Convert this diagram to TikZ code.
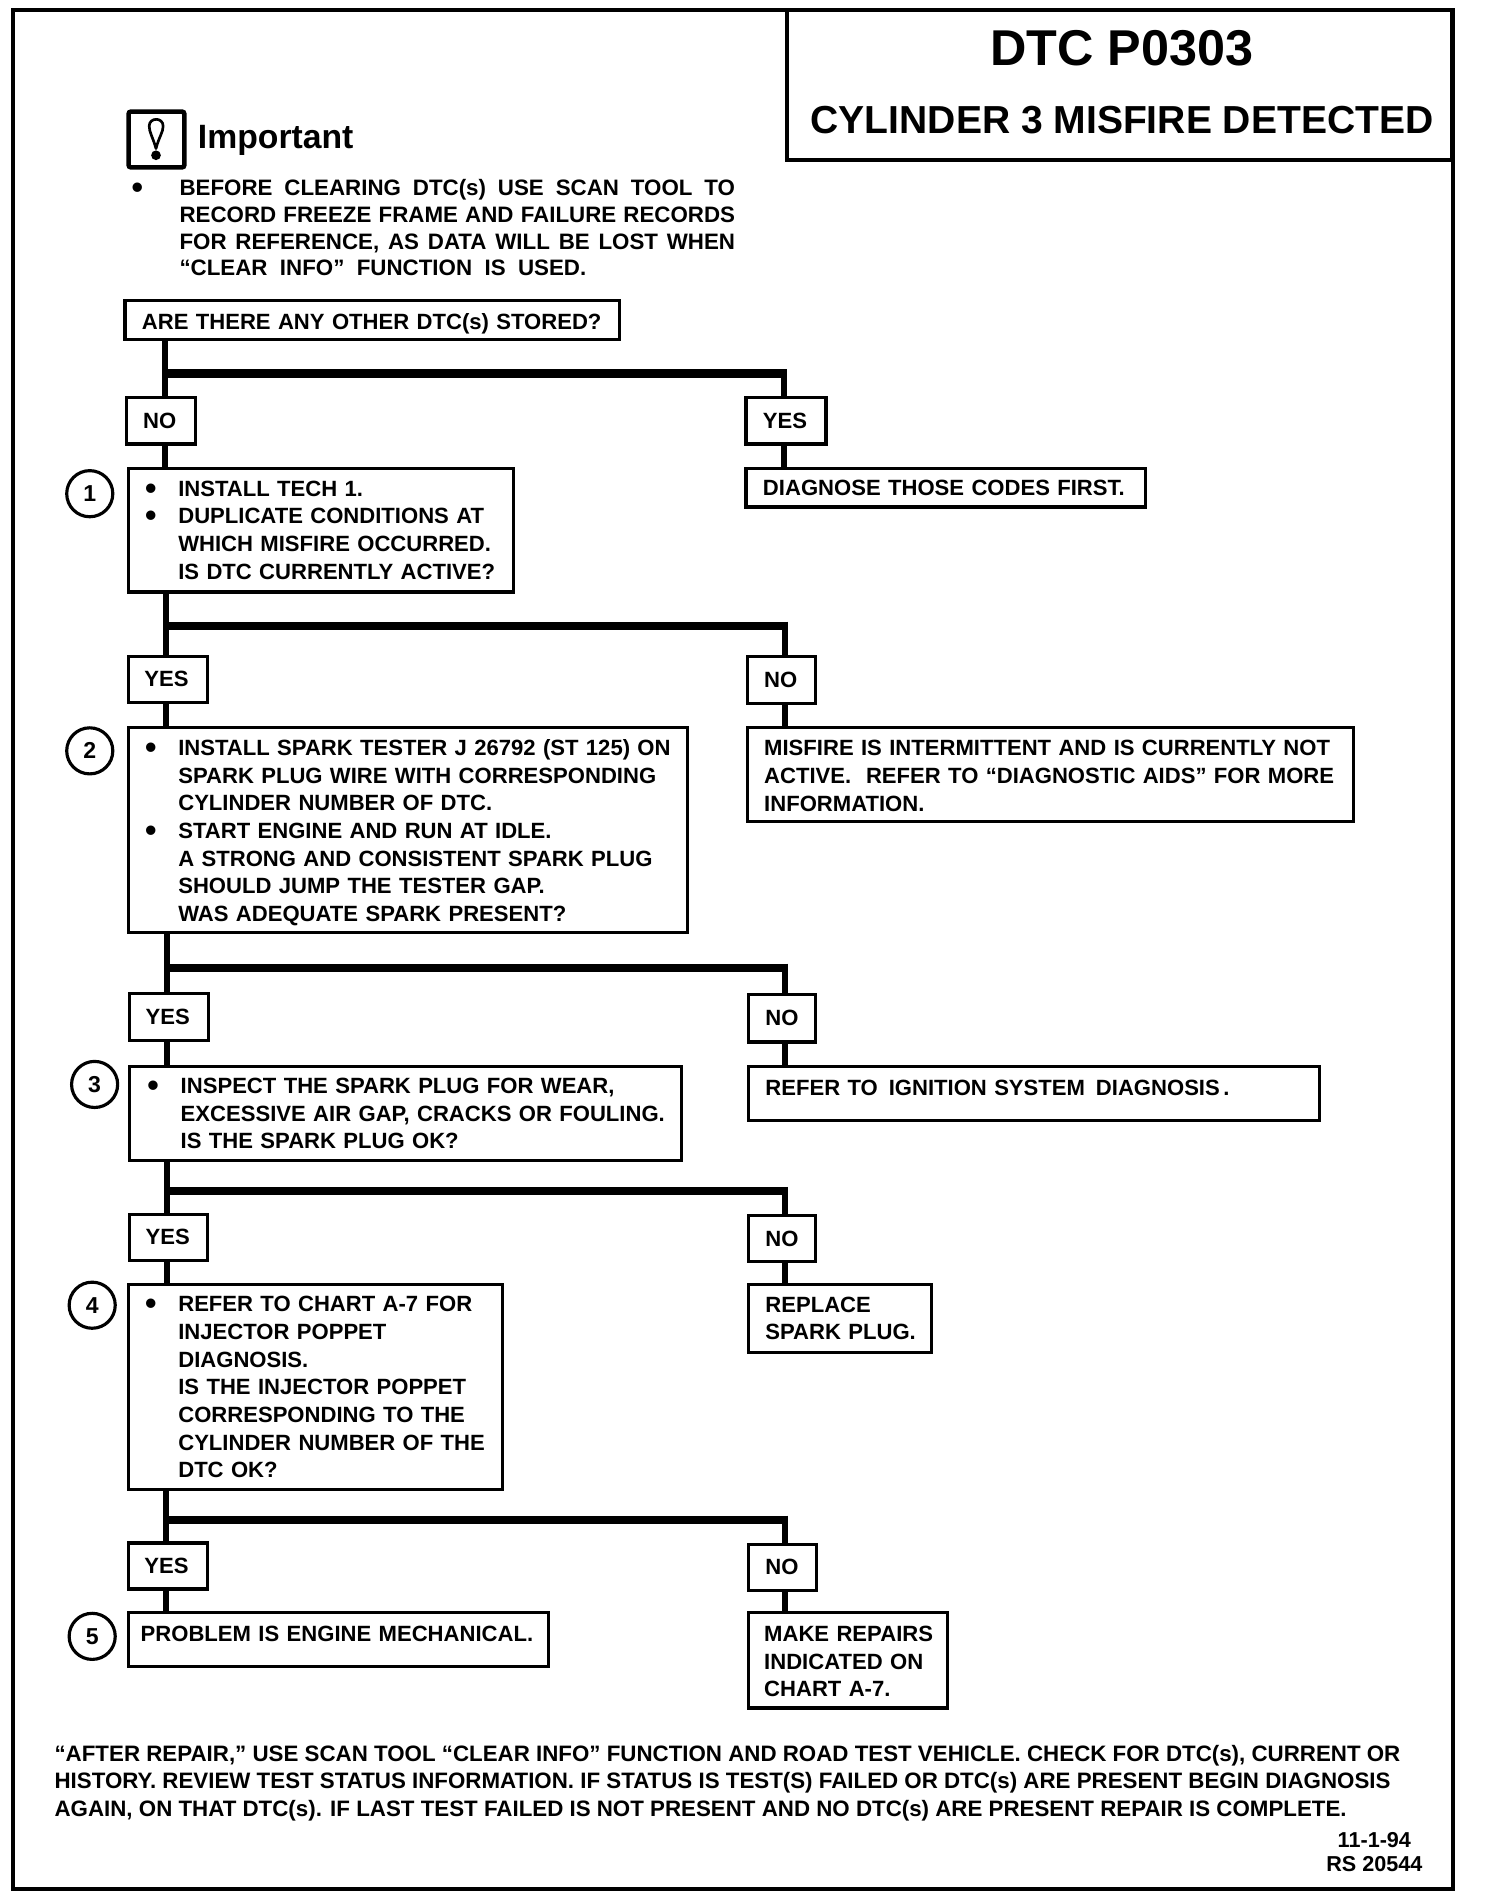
\documentclass[tikz,border=0pt]{standalone}
\usepackage{fontspec}
\setmainfont{Liberation Sans}
\newcommand{\blx}[1]{\leavevmode\llap{{\fontsize{27}{22}\selectfont\raisebox{-2.5pt}{\textbullet}}\hspace{#1pt}}}
\newcommand{\bl}{\blx{18}}
\newcommand{\jl}[2]{\makebox[#1pt][s]{#2}}
\newcommand{\bx}[7]{%
  \pgfmathsetmacro{\bxw}{#4-#2}\pgfmathsetmacro{\bxh}{#5-#3}%
  \pgfmathsetmacro{\bxc}{(#2+#4)/2}\pgfmathsetmacro{\bxm}{(#3+#5)/2}%
  \node[box,minimum width=\bxw pt,minimum height=\bxh pt,text width=\bxw pt] (#1) at (\bxc,\bxm) {\leftskip=#6pt\relax #7\par};}
\tikzset{
  x=1pt,y=-1pt,
  box/.style={draw=black,line width=2.6pt,fill=white,rectangle,inner sep=0pt,outer sep=0pt,align=left,font=\bfseries\fontsize{18.2}{22.8}\selectfont},
  num/.style={draw=black,circle,line width=2.6pt,minimum size=38pt,inner sep=0pt,fill=white,font=\bfseries\fontsize{19}{22}\selectfont},
  free/.style={inner sep=0pt,outer sep=0pt,font=\bfseries\fontsize{18.4}{22.4}\selectfont,align=left},
  trunk/.style={line width=5pt,draw=black},
  bar/.style={line width=7pt,draw=black},
}
\begin{document}
\begin{tikzpicture}
\useasboundingbox (0,0) rectangle (1240,1568);
% frame
\draw[line width=3.5pt] (11,8) rectangle (1198,1557);
\node[draw=black,line width=3pt,rectangle,minimum width=548pt,minimum height=124pt,outer sep=0pt,inner sep=0pt] (title) at (923,70) {};
\node[inner sep=0pt,font=\bfseries\fontsize{41.5}{44}\selectfont] (dtc) at (925,40) {DTC P0303};
\node[inner sep=0pt,font=\bfseries\fontsize{32.2}{36}\selectfont] (cyl) at (925,99) {CYLINDER 3 MISFIRE DETECTED};
% important
\node[draw=black,line width=3.8pt,rectangle,rounded corners=2pt,minimum size=46pt,inner sep=0pt,outer sep=0pt] (icon) at (129,115) {};
\draw[line width=2.2pt,line join=round] (128.6,122.5) .. controls (126,113) and (123,109) .. (123,104) .. controls (123,96.5) and (134.5,96.5) .. (134.5,104) .. controls (134.5,109) and (131,113) .. (128.6,122.5) -- cycle;
\fill (128.6,128) circle (4pt);
\node[anchor=west,inner sep=0pt,font=\bfseries\fontsize{27.8}{30}\selectfont] (imp) at (163,116) {Important};
\node[free,anchor=north west,font=\bfseries\fontsize{18.4}{22}\selectfont] (note) at (148,148) {\blx{30}\jl{458}{BEFORE  CLEARING  DTC(s)  USE  SCAN  TOOL  TO}\\
\jl{458}{RECORD FREEZE FRAME AND FAILURE RECORDS}\\
\jl{458}{FOR REFERENCE, AS DATA WILL BE LOST WHEN}\\
“CLEAR\ \ INFO”\ \ FUNCTION\ \ IS\ \ USED.};
% boxes
\bx{q0}{103}{248}{511}{280}{14}{\rule{0pt}{19pt}ARE THERE ANY OTHER DTC(s) STORED?}
\bx{no1}{104}{328}{161}{366}{14}{NO}
\bx{yes1}{615}{328}{681}{366}{14}{YES}
\bx{q1}{106}{386}{423}{488}{41}{\bl INSTALL TECH 1.\\\bl DUPLICATE CONDITIONS AT\\WHICH MISFIRE OCCURRED.\\IS DTC CURRENTLY ACTIVE?}
\bx{a1}{615}{386}{944}{418}{14}{DIAGNOSE THOSE CODES FIRST.}
\bx{yes2}{106}{541}{171}{579}{13}{YES}
\bx{no2}{616}{541}{672}{580}{14}{NO}
\bx{q2}{106}{600}{567}{769}{41}{\rule{0pt}{17pt}\bl INSTALL SPARK TESTER J 26792 (ST 125) ON\\SPARK PLUG WIRE WITH CORRESPONDING\\CYLINDER NUMBER OF DTC.\\\bl START ENGINE AND RUN AT IDLE.\\A STRONG AND CONSISTENT SPARK PLUG\\SHOULD JUMP THE TESTER GAP.\\WAS ADEQUATE SPARK PRESENT?}
\bx{a2}{616}{600}{1116}{677}{14}{\rule{0pt}{15pt}MISFIRE IS INTERMITTENT AND IS CURRENTLY NOT\\ACTIVE.\ \ REFER TO “DIAGNOSTIC AIDS” FOR MORE\\INFORMATION.}
\bx{yes3}{107}{819}{172}{858}{13}{YES}
\bx{no3}{617}{820}{672}{859}{14}{NO}
\bx{q3}{107}{879}{562}{957}{42}{\bl INSPECT THE SPARK PLUG FOR WEAR,\\EXCESSIVE AIR GAP, CRACKS OR FOULING.\\IS THE SPARK PLUG OK?}
\bx{a3}{617}{879}{1088}{924}{14}{\raisebox{9pt}{REFER TO\hspace{9pt}IGNITION SYSTEM\hspace{9pt}DIAGNOSIS\hspace{3pt}.}}
\bx{yes4}{107}{1001}{171}{1039}{13}{YES}
\bx{no4}{617}{1002}{672}{1040}{14}{NO}
\bx{q4}{106}{1059}{414}{1228}{41}{\bl REFER TO CHART A-7 FOR\\INJECTOR POPPET\\DIAGNOSIS.\\IS THE INJECTOR POPPET\\CORRESPONDING TO THE\\CYLINDER NUMBER OF THE\\DTC OK?}
\bx{a4}{617}{1059}{768}{1115}{14}{REPLACE\\SPARK PLUG.}
\bx{yes5}{106}{1272}{171}{1310}{13}{YES}
\bx{no5}{617}{1273}{673}{1311}{14}{NO}
\bx{q5}{106}{1329}{452}{1374}{10}{\raisebox{10pt}{PROBLEM IS ENGINE MECHANICAL.}}
\bx{a5}{617}{1329}{781}{1408}{13}{\rule{0pt}{15pt}MAKE REPAIRS\\INDICATED ON\\CHART A-7.}
% numbers
\node[num] (n1) at (74,407) {1};
\node[num] (n2) at (74,619) {2};
\node[num] (n3) at (78,894) {3};
\node[num] (n4) at (76,1076) {4};
\node[num] (n5) at (76,1349) {5};
% connectors
\coordinate (t1) at (136,308); \coordinate (r1) at (646,308);
\coordinate (t2) at (137,516); \coordinate (r2) at (647,516);
\coordinate (t3) at (138,798); \coordinate (r3) at (647,798);
\coordinate (t4) at (138,982); \coordinate (r4) at (647,982);
\coordinate (t5) at (137,1253); \coordinate (r5) at (647,1253);
\draw[trunk] (q0.south -| t1) -- (no1.north -| t1);
\draw[trunk] (no1.south -| t1) -- (q1.north -| t1);
\draw[bar] (t1) -- (r1);
\draw[trunk] ([yshift=3.5pt]r1) -- (yes1.north -| r1);
\draw[trunk] (yes1.south -| r1) -- (a1.north -| r1);
\draw[trunk] (q1.south -| t2) -- (yes2.north -| t2);
\draw[trunk] (yes2.south -| t2) -- (q2.north -| t2);
\draw[bar] (t2) -- (r2);
\draw[trunk] ([yshift=3.5pt]r2) -- (no2.north -| r2);
\draw[trunk] (no2.south -| r2) -- (a2.north -| r2);
\draw[trunk] (q2.south -| t3) -- (yes3.north -| t3);
\draw[trunk] (yes3.south -| t3) -- (q3.north -| t3);
\draw[bar] (t3) -- (r3);
\draw[trunk] ([yshift=3.5pt]r3) -- (no3.north -| r3);
\draw[trunk] (no3.south -| r3) -- (a3.north -| r3);
\draw[trunk] (q3.south -| t4) -- (yes4.north -| t4);
\draw[trunk] (yes4.south -| t4) -- (q4.north -| t4);
\draw[bar] (t4) -- (r4);
\draw[trunk] ([yshift=3.5pt]r4) -- (no4.north -| r4);
\draw[trunk] (no4.south -| r4) -- (a4.north -| r4);
\draw[trunk] (q4.south -| t5) -- (yes5.north -| t5);
\draw[trunk] (yes5.south -| t5) -- (q5.north -| t5);
\draw[bar] (t5) -- (r5);
\draw[trunk] ([yshift=3.5pt]r5) -- (no5.north -| r5);
\draw[trunk] (no5.south -| r5) -- (a5.north -| r5);
% footer
\node[free,anchor=north west] (foot) at (45,1439) {“AFTER REPAIR,” USE SCAN TOOL “CLEAR INFO” FUNCTION AND ROAD TEST VEHICLE. CHECK FOR DTC(s), CURRENT OR\\HISTORY. REVIEW TEST STATUS INFORMATION. IF STATUS IS TEST(S) FAILED OR DTC(s) ARE PRESENT BEGIN DIAGNOSIS\\AGAIN, ON THAT DTC(s). IF LAST TEST FAILED IS NOT PRESENT AND NO DTC(s) ARE PRESENT REPAIR IS COMPLETE.};
\node[free,align=center,anchor=north,font=\bfseries\fontsize{17.8}{19.5}\selectfont] (date) at (1133,1511) {11-1-94\\RS 20544};
\end{tikzpicture}
\end{document}
